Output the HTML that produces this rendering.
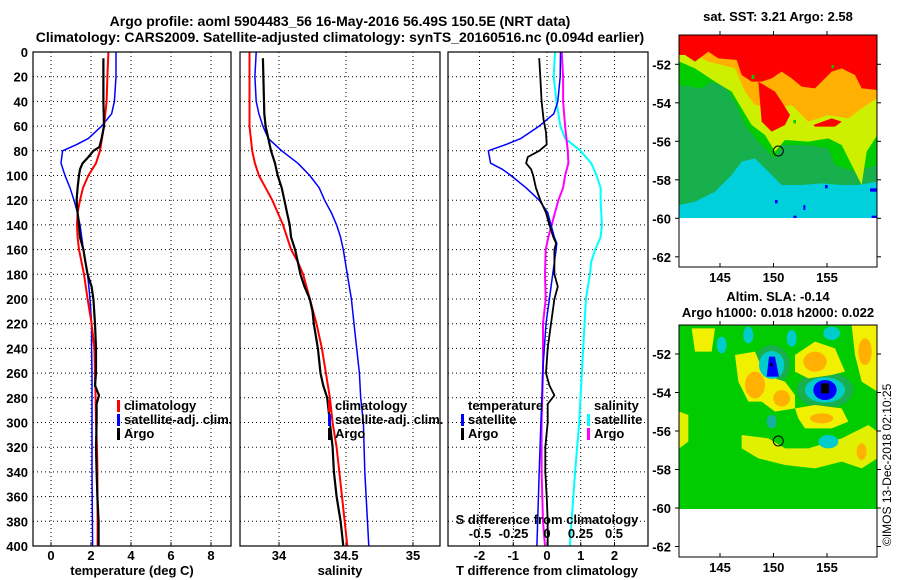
<!DOCTYPE html>
<html><head><meta charset="utf-8"><style>
body{margin:0;background:#fff;}
svg{display:block;font-family:"Liberation Sans",Arial,sans-serif;font-weight:bold;}
</style></head><body>
<svg id="fig" width="900" height="580" viewBox="0 0 900 580">
<defs>
<clipPath id="c1"><rect x="33" y="52" width="198" height="494"/></clipPath>
<clipPath id="c2"><rect x="240" y="52" width="200" height="494"/></clipPath>
<clipPath id="c3"><rect x="448" y="52" width="200" height="494"/></clipPath>
<clipPath id="m1"><rect x="13" y="31" width="594" height="554"/></clipPath>
<clipPath id="m2"><rect x="13" y="30" width="594" height="552"/></clipPath>
</defs>
<text x="340" y="26" font-size="14" text-anchor="middle">Argo profile: aoml 5904483_56 16-May-2016 56.49S 150.5E (NRT data)</text>
<text x="340" y="42" font-size="14" text-anchor="middle">Climatology: CARS2009. Satellite-adjusted climatology: synTS_20160516.nc (0.094d earlier)</text>
<g id="axes"></g>

<!-- SST map -->
<text x="778" y="21" font-size="13" text-anchor="middle">sat. SST: 3.21 Argo: 2.58</text>
<g>
<g transform="translate(675 25) scale(0.33333)" clip-path="url(#m1)">
<rect x="13" y="31" width="594" height="554" fill="#00d0dc"/>
<polygon fill="#18b04c" points="13,31 607,31 607,470 550,480 500,480 440,475 380,480 320,480 280,440 240,400 200,410 170,450 120,500 60,530 13,540"/>
<polygon fill="#00cc00" points="13,180 80,190 110,170 150,185 180,230 210,300 250,350 300,400 320,360 400,360 460,370 480,420 540,440 607,420 607,31 13,31"/>
<polygon fill="#ccf000" points="13,110 60,130 120,170 170,200 200,250 230,300 270,330 300,380 330,345 400,350 460,340 500,360 530,420 560,480 575,380 607,330 607,31 13,31"/>
<polygon fill="#ffb000" points="13,60 60,90 100,110 180,130 210,200 240,240 300,250 350,240 400,290 460,270 520,280 560,250 590,230 607,220 607,31 13,31"/>
<path fill="#ff0000" d="M13 31 L607 31 L607 195 L560 190 L540 150 L500 130 L470 140 L440 170 L420 190 L380 185 L350 160 L320 140 L290 160 L260 170 L230 170 L200 150 L185 105 L130 100 L100 80 L60 110 L30 90 L13 90 Z"/>
<path fill="#ff0000" d="M250 170 L300 200 L320 230 L345 270 L330 300 L290 320 L260 290 Z"/>
<path fill="#ff0000" d="M415 300 L470 280 L500 290 L480 305 L420 305 Z"/>
<rect x="230" y="150" width="8" height="12" fill="#00cc00"/><rect x="470" y="120" width="6" height="10" fill="#00cc00"/><rect x="355" y="285" width="8" height="10" fill="#00cc00"/>
<rect x="450" y="480" width="8" height="10" fill="#0000ff"/><rect x="300" y="525" width="8" height="10" fill="#0000ff"/><rect x="385" y="540" width="6" height="15" fill="#0000ff"/><rect x="355" y="572" width="10" height="13" fill="#0000ff"/><rect x="585" y="490" width="22" height="10" fill="#0000ff"/><rect x="590" y="572" width="17" height="13" fill="#0000ff"/>
</g>
<rect x="679" y="218" width="198" height="49" fill="#fff"/>
<rect x="679" y="35" width="198" height="232" fill="none" stroke="#000" stroke-width="1"/>
<circle cx="778.3" cy="151" r="5" fill="none" stroke="#000" stroke-width="1"/>
<g id="map1ticks"></g>
</g>

<!-- SLA map -->
<text x="778" y="301" font-size="13" text-anchor="middle">Altim. SLA: -0.14</text>
<text x="778" y="317" font-size="13" text-anchor="middle">Argo h1000: 0.018 h2000: 0.022</text>
<g>
<g transform="translate(675 315) scale(0.33333)" clip-path="url(#m2)">
<rect x="13" y="30" width="594" height="552" fill="#00cc00"/>
<ellipse cx="450" cy="225" rx="85" ry="55" fill="#18b04c"/>
<ellipse cx="290" cy="150" rx="55" ry="60" fill="#18b04c"/>
<polygon fill="#f0f000" points="180,120 240,110 270,180 330,200 360,240 360,280 300,290 260,260 220,260 190,200"/>
<polygon fill="#f0f000" points="360,120 420,80 480,100 510,170 470,180 400,190 360,170"/>
<polygon fill="#f0f000" points="360,280 420,270 500,280 520,320 470,340 390,340 370,310"/>
<polygon fill="#e0f000" points="200,360 280,370 330,400 400,400 500,370 580,330 607,350 607,430 560,460 500,440 420,460 330,450 250,430 200,400"/>
<polygon fill="#f0f000" points="530,30 607,30 607,230 560,200 540,120"/>
<polygon fill="#f0f000" points="50,40 120,40 110,110 60,110"/>
<polygon fill="#e0f000" points="13,290 40,300 40,380 13,400"/>
<ellipse cx="240" cy="210" rx="30" ry="40" fill="#ffb000"/>
<ellipse cx="320" cy="250" rx="25" ry="25" fill="#ffb000"/>
<ellipse cx="420" cy="140" rx="35" ry="30" fill="#ffb000"/>
<ellipse cx="440" cy="310" rx="35" ry="15" fill="#ffb000"/>
<ellipse cx="560" cy="410" rx="15" ry="25" fill="#ffb000"/>
<ellipse cx="570" cy="110" rx="20" ry="40" fill="#ffb000"/>
<ellipse cx="290" cy="150" rx="38" ry="42" fill="#00cccc"/>
<ellipse cx="450" cy="225" rx="60" ry="38" fill="#00cccc"/>
<ellipse cx="140" cy="90" rx="15" ry="25" fill="#00cccc"/>
<ellipse cx="220" cy="60" rx="15" ry="25" fill="#00cccc"/>
<ellipse cx="350" cy="70" rx="15" ry="25" fill="#00cccc"/>
<ellipse cx="470" cy="55" rx="25" ry="20" fill="#00cccc"/>
<ellipse cx="460" cy="380" rx="30" ry="20" fill="#00cccc"/>
<ellipse cx="290" cy="320" rx="15" ry="20" fill="#18b0a0"/>
<polygon fill="#0000ff" points="282,125 300,125 312,185 275,185"/>
<ellipse cx="450" cy="225" rx="35" ry="30" fill="#0000ff"/>
<rect x="438" y="205" width="24" height="30" fill="#000"/>
<rect x="285" y="145" width="8" height="8" fill="#000"/>
</g>
<rect x="679" y="509" width="198" height="48" fill="#fff"/>
<rect x="679" y="325" width="198" height="232" fill="none" stroke="#000" stroke-width="1"/>
<circle cx="778.3" cy="441" r="5" fill="none" stroke="#000" stroke-width="1"/>
<g id="map2ticks"></g>
</g>
<text transform="translate(891 546) rotate(-90)" font-size="12" font-weight="normal">©IMOS 13-Dec-2018 02:10:25</text>
</svg>
<script>
// ---- data ----
const depthTicks = [0,20,40,60,80,100,120,140,160,180,200,220,240,260,280,300,320,340,360,380,400];
const tempTicks = [0,2,4,6,8];
const salTicks = [34,34.5,35];
const salTickLabels = ['34','34.5','35'];
const dTTicks = [-2,-1,0,1,2];
const dSTicks = [-0.5,-0.25,0,0.25,0.5];
const dSTickLabels = ['-0.5','-0.25','0','0.25','0.5'];

const climTDepth = [0,20,40,60,80,90,100,110,120,130,140,150,160,180,200,220,240,260,280,300,320,340,360,380,400];
const climTVal = [2.87,2.82,2.78,2.65,2.45,2.25,1.87,1.6,1.45,1.33,1.3,1.33,1.4,1.65,1.83,2.03,2.17,2.2,2.23,2.25,2.3,2.32,2.32,2.33,2.33];
const satTDepth = [0,20,40,50,60,70,75,80,90,100,110,120,130,140,160,180,200,220,240,260,300,340,400];
const satTVal = [3.25,3.25,3.17,3.03,2.53,1.87,1.28,0.58,0.5,0.7,0.95,1.15,1.32,1.45,1.62,1.83,1.95,2.03,2.03,2.05,2.05,2.05,2.08];
const argoTDepth = [5,40,60,70,77,80,85,90,95,100,110,120,130,140,150,160,170,180,190,200,220,240,260,270,278,285,300,320,340,360,380,400];
const argoTVal = [2.62,2.62,2.65,2.53,2.42,2.12,1.87,1.58,1.45,1.4,1.33,1.28,1.33,1.4,1.45,1.62,1.72,1.83,2.03,2.12,2.2,2.25,2.25,2.2,2.4,2.28,2.28,2.25,2.28,2.32,2.38,2.38];

const climSDepth = [0,60,80,90,100,110,120,130,140,160,170,180,200,220,240,260,280,300,320,340,360,380,400];
const climSVal = [33.78,33.78,33.80,33.82,33.85,33.90,33.95,33.99,34.03,34.09,34.14,34.18,34.23,34.28,34.32,34.35,34.38,34.40,34.43,34.45,34.47,34.49,34.51];
const satSDepth = [0,20,40,50,60,70,80,90,100,110,120,130,140,150,160,180,200,220,240,260,280,300,340,400];
const satSVal = [33.83,33.82,33.83,33.85,33.88,33.92,34.02,34.14,34.23,34.30,34.34,34.39,34.43,34.46,34.48,34.51,34.54,34.56,34.58,34.60,34.61,34.63,34.64,34.67];
const argoSDepth = [5,50,60,70,80,90,100,110,120,130,140,150,160,170,180,190,200,210,220,240,260,270,280,300,320,340,360,380,400];
const argoSVal = [33.88,33.89,33.90,33.92,33.94,33.97,33.99,34.02,34.04,34.06,34.08,34.09,34.12,34.14,34.16,34.19,34.23,34.25,34.26,34.29,34.31,34.33,34.36,34.38,34.40,34.41,34.43,34.46,34.48];

const satDTDepth = [0,20,40,50,60,70,75,80,90,95,100,110,120,130,140,150,155,160,170,180,200,220,240,260,280,300,340,400];
const satDTVal = [0.4,0.39,0.32,0.2,-0.23,-0.77,-1.22,-1.74,-1.67,-1.32,-1.07,-0.62,-0.23,0.02,0.12,0.22,0.29,0.27,0.22,0.17,0.07,-0.03,-0.08,-0.13,-0.15,-0.18,-0.23,-0.3];
const argoDTDepth = [5,20,40,55,65,75,80,85,90,95,100,110,120,130,140,150,155,160,180,190,200,220,240,260,270,278,285,300,320,340,360,380,400];
const argoDTVal = [-0.23,-0.2,-0.16,-0.1,-0.03,-0.01,-0.23,-0.57,-0.62,-0.47,-0.41,-0.33,-0.2,-0.03,0.07,0.19,0.27,0.22,0.22,0.32,0.22,0.12,0.02,-0.03,0.07,0.22,0.02,0.02,-0.05,-0.05,-0.01,0.02,0.02];
const satDSDepth = [0,20,40,60,70,80,90,100,110,120,140,150,160,170,180,200,240,280,300,340,400];
const satDSVal = [0.06,0.05,0.07,0.1,0.135,0.25,0.33,0.37,0.4,0.4,0.41,0.4,0.36,0.33,0.32,0.29,0.27,0.25,0.24,0.21,0.17];
const argoDSDepth = [0,20,40,60,70,80,90,100,110,120,130,140,150,160,180,200,220,260,300,340,380,400];
const argoDSVal = [0.11,0.12,0.12,0.135,0.145,0.155,0.16,0.135,0.12,0.085,0.06,0.035,0.01,-0.01,-0.015,-0.01,-0.03,-0.03,-0.04,-0.04,-0.03,-0.015];

const lonTicks = [145,150,155];
const latTicks = [-52,-54,-56,-58,-60,-62];

// ---- axis functions ----
const NS='http://www.w3.org/2000/svg';
const yTop=52, yBot=546;
const yD = d => yTop + d*(yBot-yTop)/400;
const xT = t => 51 + t*20;
const xS = s => 279 + (s-34)*134;
const xDT = t => 547 + t*33.75;
const xDS = s => 547 + s*134;
const lonX = lon => 720 + (lon-145)*10.7;
const latY1 = lat => 64.3 + (-52-lat)*19.25;
const latY2 = lat => 354 + (-52-lat)*19.25;

const root=document.getElementById('axes');
function mk(tag,attrs,parent){const e=document.createElementNS(NS,tag);for(const k in attrs)e.setAttribute(k,attrs[k]);(parent||root).appendChild(e);return e;}
function txt(x,y,s,anchor,size,parent){const e=mk('text',{x:x,y:y,'font-size':size||13,'text-anchor':anchor||'middle'},parent);e.textContent=s;return e;}

const panels=[{x0:33,x1:231,clip:'c1',name:'temperature-panel'},{x0:240,x1:440,clip:'c2',name:'salinity-panel'},{x0:448,x1:648,clip:'c3',name:'difference-panel'}];
const panelGroups=[];
panels.forEach((p,i)=>{
  const g=mk('g',{});
  
  
  panelGroups.push(g);
  depthTicks.forEach(d=>{
    if(d===0||d===400) return;
    const l=mk('line',{x1:p.x0,x2:p.x1,y1:yD(d),y2:yD(d),stroke:'#000','stroke-width':1,'stroke-dasharray':'1,3'},g);
    
    
  });
});
function vgrid(g,xs){xs.forEach(x=>{const l=mk('line',{x1:x,x2:x,y1:yTop,y2:yBot,stroke:'#000','stroke-width':1,'stroke-dasharray':'1,3'},g);
  
  
  mk('line',{x1:x,x2:x,y1:yBot,y2:yBot-4,stroke:'#000'},g);});}
vgrid(panelGroups[0],tempTicks.map(xT));
vgrid(panelGroups[1],salTicks.map(xS));
vgrid(panelGroups[2],dTTicks.map(xDT));

depthTicks.forEach(d=>{const t=txt(28,yD(d)+5,String(d),'end',13);
  
  });
tempTicks.forEach(v=>{const t=txt(xT(v),560,String(v),'middle',13);
  
  });
salTicks.forEach((v,i)=>{const t=txt(xS(v),560,salTickLabels[i],'middle',13);
  
  });
dTTicks.forEach(v=>{const t=txt(xDT(v),560,String(v),'middle',13);
  
  });
dSTicks.forEach((v,i)=>{const t=txt(xDS(v),538,dSTickLabels[i],'middle',13);
  
  
  mk('line',{x1:xDS(v),x2:xDS(v),y1:530,y2:524,stroke:'#000','stroke-dasharray':'1,2'});});
let t;
t=txt(132,575,'temperature (deg C)');
t=txt(340,575,'salinity');
t=txt(547,575,'T difference from climatology');
t=txt(547,524,'S difference from climatology');

function series(g,depths,vals,xf,color,w,clip,name){
  const pts=depths.map((d,i)=>xf(vals[i]).toFixed(1)+','+yD(d).toFixed(1)).join(' ');
  const pl=mk('polyline',{points:pts,fill:'none',stroke:color,'stroke-width':w,'clip-path':'url(#'+clip+')','stroke-linejoin':'round'},g);
  
  
}
series(panelGroups[0],satTDepth,satTVal,xT,'#0000ff',1.5,'c1','temperature-satellite-line');
series(panelGroups[0],climTDepth,climTVal,xT,'#ff0000',2,'c1','temperature-climatology-line');
series(panelGroups[0],argoTDepth,argoTVal,xT,'#000',2.2,'c1','temperature-argo-line');
series(panelGroups[1],satSDepth,satSVal,xS,'#0000ff',1.5,'c2','salinity-satellite-line');
series(panelGroups[1],climSDepth,climSVal,xS,'#ff0000',2,'c2','salinity-climatology-line');
series(panelGroups[1],argoSDepth,argoSVal,xS,'#000',2.2,'c2','salinity-argo-line');
series(panelGroups[2],satDSDepth,satDSVal,xDS,'#00ffff',2,'c3','s-difference-satellite-line');
series(panelGroups[2],argoDSDepth,argoDSVal,xDS,'#ff00ff',2,'c3','s-difference-argo-line');
series(panelGroups[2],satDTDepth,satDTVal,xDT,'#0000ff',1.5,'c3','t-difference-satellite-line');
series(panelGroups[2],argoDTDepth,argoDTVal,xDT,'#000',1.8,'c3','t-difference-argo-line');

panels.forEach(p=>{const r=mk('rect',{x:p.x0,y:yTop,width:p.x1-p.x0,height:yBot-yTop,fill:'none',stroke:'#000','stroke-width':1.2});
  
  });

function legend(x,y,color,label,name){
  mk('rect',{x:x,y:y-10,width:3,height:12,fill:color});
  const e=txt(x+7,y,label,'start',13);
  
  
}
legend(117,410,'#ff0000','climatology','legend-climatology');
legend(117,424,'#0000ff','satellite-adj. clim.','legend-satellite');
legend(117,438,'#000','Argo','legend-argo');
legend(328,410,'#ff0000','climatology','legend-climatology');
legend(328,424,'#0000ff','satellite-adj. clim.','legend-satellite');
legend(328,438,'#000','Argo','legend-argo');
t=txt(468,410,'temperature','start',13);
legend(461,424,'#0000ff','satellite','legend-t-satellite');
legend(461,438,'#000','Argo','legend-t-argo');
t=txt(594,410,'salinity','start',13);
legend(587,424,'#00ffff','satellite','legend-s-satellite');
legend(587,438,'#ff00ff','Argo','legend-s-argo');

function mapAxes(gid,latY,top,bot,withLabels){
  const g=document.getElementById(gid);
  latTicks.forEach(lat=>{const y=latY(lat);
    mk('line',{x1:675,x2:679,y1:y,y2:y,stroke:'#000'},g);
    mk('line',{x1:877,x2:881,y1:y,y2:y,stroke:'#000'},g);
    const e=txt(671,y+5,String(lat),'end',13,g);
    
    });
  lonTicks.forEach(lon=>{const x=lonX(lon);
    mk('line',{x1:x,x2:x,y1:top-4,y2:top,stroke:'#000'},g);
    mk('line',{x1:x,x2:x,y1:bot,y2:bot-4,stroke:'#000'},g);
    if(withLabels){const e=txt(x,bot+15,String(lon),'middle',13,g);
      
      }});
}
mapAxes('map1ticks',latY1,35,267,true);
mapAxes('map2ticks',latY2,325,557,true);
</script>
</body></html>
